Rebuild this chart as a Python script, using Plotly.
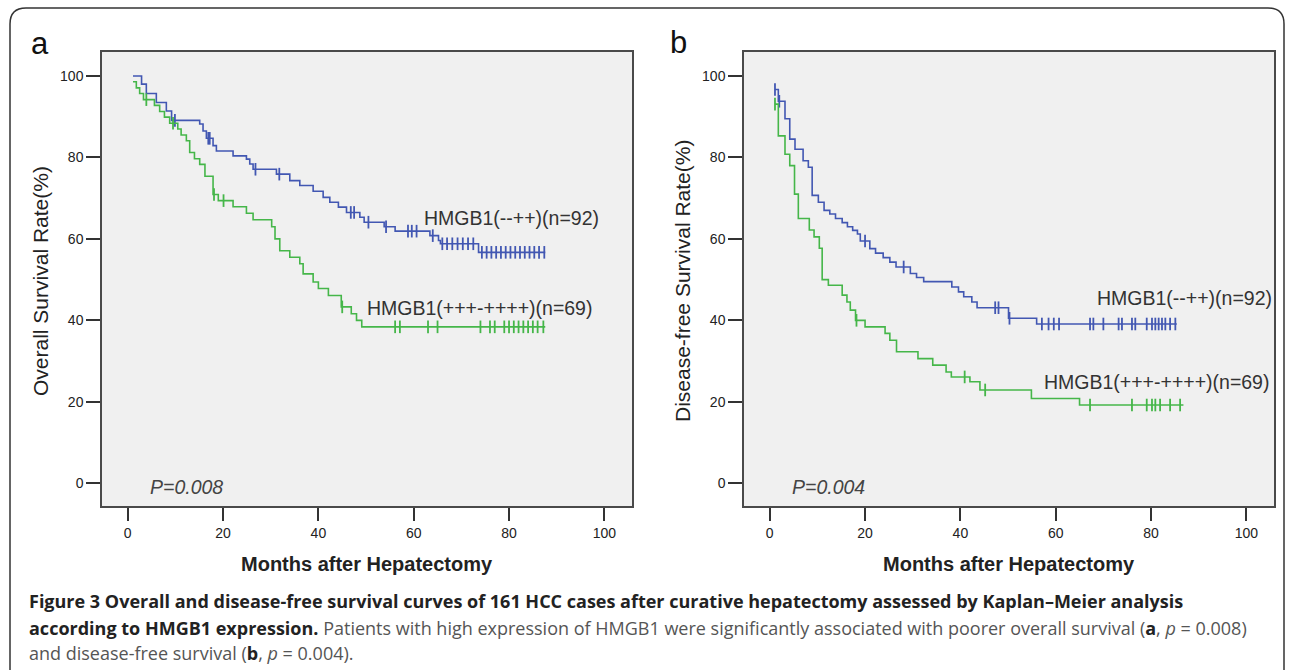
import numpy as np
import plotly.graph_objects as go

# ---------------- data ----------------
# Panel a: overall survival
os_low_t = [1.1, 2.9, 3.9, 6.0, 8.1, 9.2, 15.1, 15.8, 16.5, 17.9, 18.6, 22.1, 24.9, 25.6, 26.3,
            31.2, 34.0, 36.1, 38.9, 41.0, 42.4, 44.2, 45.9, 48.7, 49.6, 53.8, 56.1, 63.4, 65.2, 65.6, 73.6]
os_low_s = [100, 98.0, 95.7, 93.5, 91.4, 89.1, 88.2, 86.5, 84.7, 82.9, 81.6, 80.4, 79.6, 78.4, 77.1,
            75.9, 74.3, 73.1, 71.7, 70.2, 69.0, 67.8, 66.5, 65.3, 64.1, 63.0, 61.9, 60.8, 59.6, 58.8, 56.7]
os_low_cens = [9.9, 16.9, 17.2, 26.8, 31.8, 46.8, 47.5, 50.5, 54.2, 58.8, 59.6, 60.6, 64.0, 66.0, 67.0,
               68.1, 69.2, 70.3, 71.4, 72.5, 74.3, 75.3, 76.3, 77.3, 78.3, 79.3, 80.3, 81.3, 82.3,
               83.3, 84.3, 85.3, 86.3, 87.4]
os_low_end = 87.6

os_high_t = [1.1, 1.8, 2.5, 3.3, 5.6, 6.7, 7.7, 8.8, 10.5, 11.2, 12.3, 13.0, 14.0, 15.1, 16.2, 17.9,
             19.0, 22.1, 24.9, 26.3, 30.2, 30.9, 31.9, 34.0, 36.1, 36.8, 38.9, 40.0, 42.1, 44.8,
             46.9, 48.0, 49.1]
os_high_s = [98.6, 97.1, 95.7, 94.2, 92.8, 91.3, 89.9, 88.4, 87.0, 85.5, 84.1, 81.2, 79.7, 78.3, 75.4,
             70.9, 69.4, 67.9, 66.3, 64.7, 63.0, 60.0, 57.1, 55.5, 53.9, 51.4, 49.4, 47.8, 46.1,
             43.3, 41.6, 40.0, 38.4]
os_high_cens = [3.9, 9.5, 18.1, 20.1, 45.0, 56.1, 57.1, 63.0, 65.0, 74.0, 76.0, 77.0, 79.0, 80.0,
                81.0, 82.0, 83.0, 84.0, 85.0, 86.0, 87.2]
os_high_end = 87.6

# Panel b: disease-free survival
dfs_low_t = [1.1, 1.8, 3.2, 4.2, 5.3, 7.0, 8.1, 8.9, 10.2, 11.4, 12.6, 13.8, 15.2, 16.3, 17.4, 18.4,
             19.0, 21.0, 22.2, 23.8, 25.2, 26.5, 29.5, 30.8, 32.3, 38.2, 39.6, 40.7, 42.4, 43.5,
             50.1, 56.0]
dfs_low_s = [96.7, 93.8, 89.5, 84.5, 82.0, 79.2, 77.6, 70.7, 69.0, 67.0, 66.1, 65.0, 64.0, 63.0, 62.1,
             61.2, 59.5, 57.6, 56.5, 55.4, 54.3, 53.1, 51.5, 50.5, 49.5, 48.2, 47.0, 45.8, 44.5,
             43.1, 40.5, 39.1]
dfs_low_cens = [1.1, 2.0, 20.0, 28.1, 47.3, 48.0, 50.3, 57.1, 58.5, 59.6, 60.7, 67.2, 67.9, 70.0,
                73.2, 73.9, 76.0, 76.7, 79.1, 80.2, 80.9, 81.6, 82.3, 83.0, 84.0, 85.1]
dfs_low_end = 85.4

dfs_high_t = [1.1, 1.8, 3.2, 4.2, 5.2, 6.0, 8.3, 9.3, 10.4, 11.0, 12.3, 15.2, 16.2, 16.9, 18.0, 20.0,
              24.2, 25.2, 26.6, 31.1, 34.2, 37.0, 38.1, 42.0, 44.1, 54.9, 65.0]
dfs_high_s = [93.1, 85.3, 80.8, 78.0, 71.0, 65.0, 62.2, 60.5, 57.7, 50.0, 48.6, 46.2, 44.5, 42.5, 40.0,
              38.4, 36.8, 35.1, 32.3, 30.6, 29.0, 27.3, 26.1, 24.9, 22.9, 20.8, 19.2]
dfs_high_cens = [1.1, 18.2, 40.9, 45.2, 67.2, 76.0, 79.1, 80.2, 80.9, 81.9, 84.0, 86.1]
dfs_high_end = 86.8

x_ticks = [0, 20, 40, 60, 80, 100]
y_ticks = [0, 20, 40, 60, 80, 100]
label_low = "HMGB1(--++)(n=92)"
label_high = "HMGB1(+++-++++)(n=69)"
p_values = ["P=0.008", "P=0.004"]
y_titles = ["Overall Survival Rate(%)", "Disease-free Survival Rate(%)"]
x_title = "Months after Hepatectomy"

BLUE = "#4257b2"
GREEN = "#45b649"

W, H = 1290, 672


def px(x):
    return x / W


def py(y):
    return 1 - y / H


fig = go.Figure()


def add_curve(t, s, cens, end, color, xa, ya):
    xs = list(t) + [end]
    ys = list(s) + [s[-1]]
    fig.add_trace(go.Scatter(x=xs, y=ys, mode="lines", line=dict(color=color, width=1.6, shape="hv"),
                             xaxis=xa, yaxis=ya, showlegend=False, hoverinfo="skip"))
    ta = np.array(t)
    idx = np.searchsorted(ta, np.array(cens), side="right") - 1
    idx = np.clip(idx, 0, len(s) - 1)
    cy = [s[i] for i in idx]
    fig.add_trace(go.Scatter(x=cens, y=cy, mode="markers",
                             marker=dict(symbol="line-ns", size=9, line=dict(color=color, width=1.8)),
                             xaxis=xa, yaxis=ya, showlegend=False, hoverinfo="skip"))


add_curve(os_low_t, os_low_s, os_low_cens, os_low_end, BLUE, "x", "y")
add_curve(os_high_t, os_high_s, os_high_cens, os_high_end, GREEN, "x", "y")
add_curve(dfs_low_t, dfs_low_s, dfs_low_cens, dfs_low_end, BLUE, "x2", "y2")
add_curve(dfs_high_t, dfs_high_s, dfs_high_cens, dfs_high_end, GREEN, "x2", "y2")

axis_common = dict(showgrid=False, zeroline=False, showline=True, mirror=True, linecolor="#4a4a4a",
                   linewidth=1.5, ticks="outside", tickwidth=2, tickcolor="#333333",
                   tickfont=dict(family="Liberation Sans, Arial", size=14, color="#222222"),
                   fixedrange=True)

ydom = [py(506), py(52)]
fig.update_layout(
    width=W, height=H, margin=dict(l=0, r=0, t=0, b=0),
    paper_bgcolor="white", plot_bgcolor="#f0f0f0",
    xaxis=dict(domain=[px(102), px(632)], range=[-5.4, 105.8], tickvals=x_ticks, ticklen=13, anchor="y", **axis_common),
    yaxis=dict(domain=ydom, range=[-5.6, 105.9], tickvals=y_ticks, ticklen=14, anchor="x", **axis_common),
    xaxis2=dict(domain=[px(744), px(1274)], range=[-5.4, 105.8], tickvals=x_ticks, ticklen=13, anchor="y2", **axis_common),
    yaxis2=dict(domain=ydom, range=[-5.6, 105.9], tickvals=y_ticks, ticklen=14, anchor="x2", **axis_common),
)

ann = []
lab_font = dict(family="Liberation Sans, Arial", size=19.5, color="#333333")
for xr, yr, pos in [("x", "y", [(61.8, 65.1), (49.8, 43.0)]), ("x2", "y2", [(68.3, 45.5), (57.1, 24.8)])]:
    ann.append(dict(x=pos[0][0], y=pos[0][1], xref=xr, yref=yr, text=label_low, showarrow=False,
                    xanchor="left", yanchor="middle", font=lab_font))
    ann.append(dict(x=pos[1][0], y=pos[1][1], xref=xr, yref=yr, text=label_high, showarrow=False,
                    xanchor="left", yanchor="middle", font=lab_font))

for xr, yr, ptxt in [("x", "y", p_values[0]), ("x2", "y2", p_values[1])]:
    ann.append(dict(x=4.3, y=-1.0, xref=xr, yref=yr, text="<i>" + ptxt + "</i>", showarrow=False,
                    xanchor="left", yanchor="middle",
                    font=dict(family="Liberation Sans, Arial", size=19.5, color="#444444")))

# panel letters
for lx, ly, letter in [(40, 43, "a"), (678, 42, "b")]:
    ann.append(dict(x=px(lx), y=py(ly), xref="paper", yref="paper", text=letter, showarrow=False,
                    xanchor="center", yanchor="middle",
                    font=dict(family="Liberation Sans, Arial", size=31, color="#111111")))

# axis titles
for tx, ttl in [(40, y_titles[0]), (682, y_titles[1])]:
    ann.append(dict(x=px(tx), y=py(281), xref="paper", yref="paper", text=ttl, showarrow=False,
                    textangle=-90, xanchor="center", yanchor="middle",
                    font=dict(family="Liberation Sans, Arial", size=21, color="#222222")))
for cx in [367, 1009]:
    ann.append(dict(x=px(cx), y=py(564), xref="paper", yref="paper", text="<b>" + x_title + "</b>",
                    showarrow=False, xanchor="center", yanchor="middle",
                    font=dict(family="Liberation Sans, Arial", size=20, color="#222222")))

# caption
cap_font = dict(family="Open Sans", size=18, color="#555555")
cap1 = ("<b><span style='color:#222222'>Figure 3 Overall and disease-free survival curves of 161 HCC cases "
        "after curative hepatectomy assessed by Kaplan–Meier analysis</span></b>")
cap2 = ("<b><span style='color:#222222'>according to HMGB1 expression.</span></b> Patients with high expression "
        "of HMGB1 were significantly associated with poorer overall survival "
        "(<b><span style='color:#222222'>a</span></b>, <i>p</i> = 0.008)")
cap3 = "and disease-free survival (<b><span style='color:#222222'>b</span></b>, <i>p</i> = 0.004)."
for cy, txt in [(601, cap1), (628, cap2), (653, cap3)]:
    ann.append(dict(x=px(27), y=py(cy), xref="paper", yref="paper", text=txt, showarrow=False,
                    xanchor="left", yanchor="middle", font=cap_font))

fig.update_layout(annotations=ann)

# rounded outer frame
L, T, R, B, r = 10, 8, 1284, 670, 16
path = (f"M {px(L)},{py(B)} L {px(L)},{py(T + r)} Q {px(L)},{py(T)} {px(L + r)},{py(T)} "
        f"L {px(R - r)},{py(T)} Q {px(R)},{py(T)} {px(R)},{py(T + r)} L {px(R)},{py(B)}")
fig.add_shape(type="path", path=path, xref="paper", yref="paper",
              line=dict(color="#333333", width=1.5))

fig.write_html("out.html", config={"displayModeBar": False},
               post_script="document.body.style.margin='0';document.body.style.overflow='hidden';")
